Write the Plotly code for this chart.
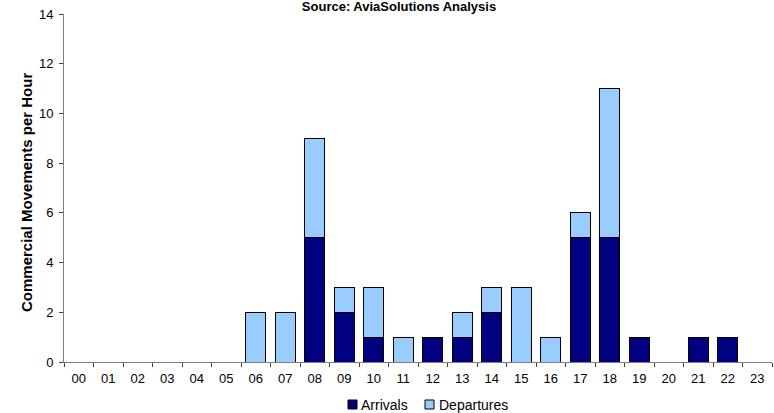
import plotly.graph_objects as go

hours = [f"{h:02d}" for h in range(24)]
arrivals = [0, 0, 0, 0, 0, 0, 0, 0, 5, 2, 1, 0, 1, 1, 2, 0, 0, 5, 5, 1, 0, 1, 1, 0]
departures = [0, 0, 0, 0, 0, 0, 2, 2, 4, 1, 2, 1, 0, 1, 1, 3, 1, 1, 6, 0, 0, 0, 0, 0]

series = [("Arrivals", arrivals, "#000080"), ("Departures", departures, "#99CCFF")]

font = "Liberation Sans, Arial, sans-serif"
W, H = 774, 413
L, R, T, B = 64, 2, 14, 51
pw, ph = W - L - R, H - T - B

fig = go.Figure()
for name, vals, col in series:
    fig.add_trace(go.Bar(x=hours, y=vals, name=name, showlegend=False,
                         marker=dict(color=col, line=dict(color="#000000", width=1))))

# compact legend below the axis: small square swatch followed by the series name
legend_items = [(348, 359), (425, 437)]
for (sx, tx), (name, _, col) in zip(legend_items, series):
    fig.add_shape(type="rect", xref="paper", yref="paper",
                  x0=(sx - L) / pw, x1=(sx + 9 - L) / pw,
                  y0=(T + ph - 400) / ph, y1=(T + ph - 409) / ph,
                  fillcolor=col, line=dict(color="#000000", width=1))
    fig.add_annotation(text=name, xref="paper", yref="paper",
                       x=(tx - L) / pw, y=(T + ph - 405) / ph,
                       xanchor="left", yanchor="middle", showarrow=False,
                       font=dict(size=14, family=font, color="#000000"))

fig.add_annotation(text="<b>Commercial Movements per Hour</b>", xref="paper", yref="paper",
                   x=(26.5 - L) / pw, y=(T + ph - 192.5) / ph, textangle=-90,
                   xanchor="center", yanchor="middle", showarrow=False,
                   font=dict(size=15, family=font, color="#000000"))

fig.update_layout(
    width=W, height=H,
    barmode="stack", bargap=0.32,
    plot_bgcolor="white", paper_bgcolor="white",
    margin=dict(l=L, r=R, t=T, b=B, autoexpand=False),
    font=dict(family=font, size=13, color="#000000"),
    title=dict(text="<b>Source: AviaSolutions Analysis</b>", xref="container",
               x=399 / W, xanchor="center", y=1 - 6 / H, yanchor="middle",
               font=dict(size=13, family=font)),
    showlegend=False,
)
fig.update_xaxes(type="category", tickson="boundaries", ticks="outside", ticklen=4,
                 tickcolor="#404040", showline=True, linecolor="#808080", linewidth=1,
                 showgrid=False, tickfont=dict(size=13), ticklabelstandoff=4,
                 automargin=False)
fig.update_yaxes(range=[0, 14], dtick=2, ticks="outside", ticklen=4, tickcolor="#404040",
                 showline=True, linecolor="#808080", linewidth=1, showgrid=False,
                 zeroline=False, tickfont=dict(size=13), ticklabelstandoff=3,
                 automargin=False)

fig.write_html("out.html")
